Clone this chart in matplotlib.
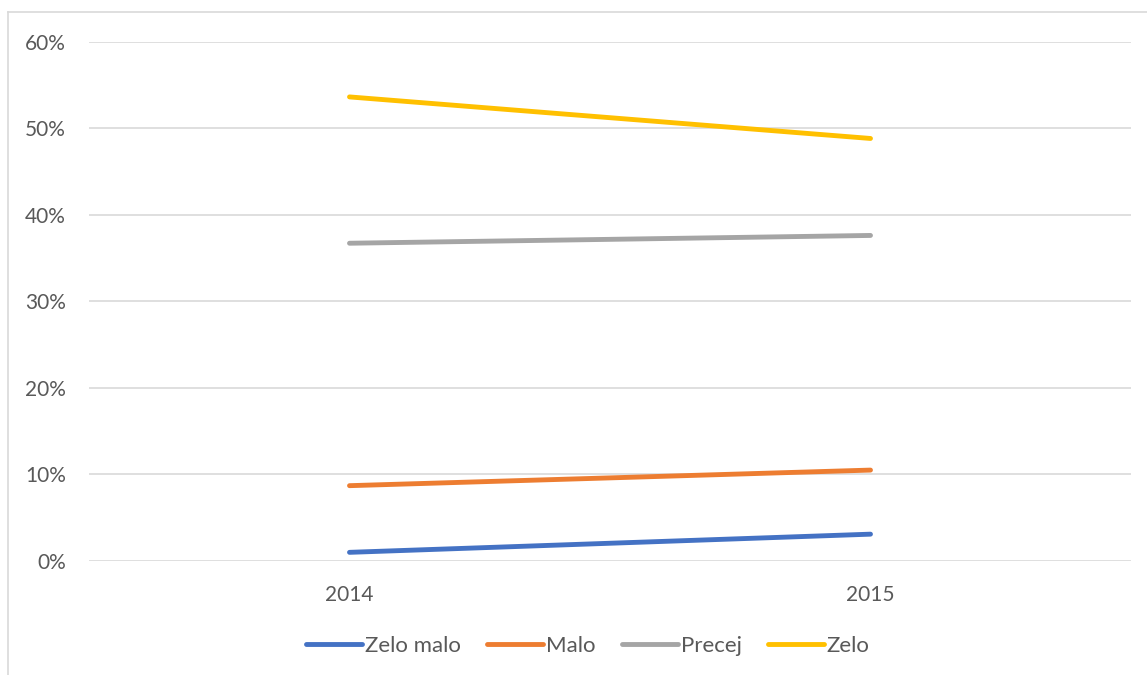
import matplotlib.pyplot as plt
from matplotlib.lines import Line2D
from matplotlib.ticker import FuncFormatter

plt.rcParams['font.family'] = ['Lato', 'DejaVu Sans']

years = ['2014', '2015']
zelo_malo = [1.0, 3.1]
malo = [8.7, 10.5]
precej = [36.7, 37.6]
zelo = [53.6, 48.8]

series = [
    ('Zelo malo', zelo_malo, '#4472C4'),
    ('Malo', malo, '#ED7D31'),
    ('Precej', precej, '#A5A5A5'),
    ('Zelo', zelo, '#FFC000'),
]

W, H = 1147, 675
fig = plt.figure(figsize=(W / 100, H / 100), dpi=100)
ax = fig.add_axes([89 / W, 1 - 561 / H, (1131 - 89) / W, (561 - 41.5) / H])

x = list(range(len(years)))
for name, vals, color in series:
    ax.plot(x, vals, color=color, linewidth=3.5, solid_capstyle='round', label=name)

ax.set_xlim(-0.5, len(years) - 0.5)
ax.set_ylim(0, 60)
ax.set_yticks(range(0, 61, 10))
ax.yaxis.set_major_formatter(FuncFormatter(lambda v, p: '%d%%' % v))
ax.set_xticks(x)
ax.set_xticklabels(years)
ax.grid(axis='y', color='#d9d9d9', linewidth=1.2)
ax.set_axisbelow(True)
for s in ax.spines.values():
    s.set_visible(False)
ax.tick_params(length=0, labelsize=15, colors='#595959')
ax.tick_params(axis='y', pad=16.5)
ax.tick_params(axis='x', pad=17)

# chart frame, only top and left edges fall inside the image
fig.add_artist(Line2D([8 / W, 1], [1 - 12 / H, 1 - 12 / H], color='#d9d9d9', linewidth=1.2))
fig.add_artist(Line2D([8 / W, 8 / W], [0, 1 - 12 / H], color='#d9d9d9', linewidth=1.2))

leg = fig.legend(loc='center', bbox_to_anchor=(588 / W, 1 - 646 / H), ncol=4, frameon=False,
                 fontsize=16, handlelength=2.5, handletextpad=0.13, columnspacing=1.2)
for t in leg.get_texts():
    t.set_color('#595959')

fig.savefig('out.png', dpi=100)
